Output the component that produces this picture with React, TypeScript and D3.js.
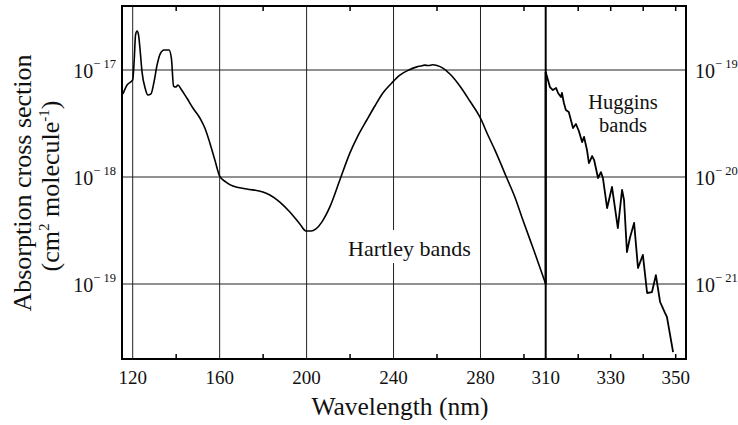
import React from "react";
import * as d3 from "d3";

// Hartley (left axis) region: wavelength (nm) and cross section (cm^2 molecule^-1)
const hartleyWavelength = [
  115.5, 117.4, 120.0, 120.7, 121.3, 122.0, 122.7, 123.4, 124.3, 125.7, 127.0, 128.4,
  129.8, 131.2, 132.6, 134.4, 136.7, 137.8, 138.8, 139.9, 140.8, 142.2, 144.9, 147.7,
  150.9, 153.2, 155.5, 157.8, 160.0, 162.9, 166.1, 172.5, 179.9, 183.1, 187.7, 192.3,
  196.9, 199.7, 202.0, 204.3, 207.0, 210.7, 215.3, 219.9, 223.6, 227.7, 231.4, 235.1,
  239.2, 242.9, 247.0, 250.7, 252.5, 254.3, 256.0, 258.0, 260.0, 262.7, 266.4, 270.5,
  275.1, 279.7, 283.4, 286.6, 292.1, 295.8, 299.5, 304.5, 310.0,
];
const hartleyCross = [
  5.97e-18, 7.24e-18, 8.07e-18, 1.24e-17, 2.12e-17, 2.31e-17, 2.12e-17, 1.54e-17, 9.57e-18, 6.79e-18, 5.83e-18, 5.97e-18,
  7.73e-18, 1.11e-17, 1.41e-17, 1.54e-17, 1.54e-17, 1.29e-17, 7.08e-18, 6.93e-18, 7.24e-18, 6.64e-18, 5.47e-18, 4.42e-18,
  3.56e-18, 2.87e-18, 2.08e-18, 1.44e-18, 1.02e-18, 8.97e-19, 8.24e-19, 7.73e-19, 7.24e-19, 6.79e-19, 5.83e-19, 4.71e-19,
  3.64e-19, 3.13e-19, 3.13e-19, 3.27e-19, 3.79e-19, 5.25e-19, 9.38e-19, 1.67e-18, 2.42e-18, 3.41e-18, 4.61e-18, 6.10e-18,
  7.57e-18, 8.97e-18, 1.0e-17, 1.07e-17, 1.09e-17, 1.11e-17, 1.10e-17, 1.12e-17, 1.10e-17, 1.04e-17, 8.97e-18, 7.08e-18,
  5.13e-18, 3.64e-18, 2.47e-18, 1.79e-18, 9.79e-19, 6.50e-19, 3.96e-19, 2.08e-19, 1.0e-19,
];

// Huggins (right axis) region
const hugginsWavelength = [
  310.0, 311.3, 312.2, 313.2, 313.8, 314.7, 315.0, 315.6, 316.2, 317.1, 318.4, 319.3,
  320.2, 321.2, 321.8, 322.7, 323.3, 324.3, 324.9, 326.1, 327.0, 327.6, 328.9, 330.4,
  332.2, 333.5, 334.1, 335.0, 335.9, 337.2, 338.4, 339.9, 341.2, 342.7, 343.9, 345.2,
  346.7, 347.3, 349.2,
];
const hugginsCross = [
  9.57e-20, 6.93e-20, 6.5e-20, 6.79e-20, 6.1e-20, 5.6e-20, 6.1e-20, 4.92e-20, 4.23e-20, 4.05e-20, 2.87e-20, 3.13e-20,
  2.69e-20, 2.12e-20, 2.37e-20, 1.79e-20, 1.35e-20, 1.57e-20, 1.44e-20, 9.79e-21, 1.11e-20, 9.79e-21, 5.13e-21, 8.07e-21,
  3.33e-21, 7.57e-21, 6.1e-21, 1.99e-21, 2.69e-21, 3.72e-21, 1.41e-21, 1.87e-21, 8.24e-22, 8.41e-22, 1.21e-21, 6.79e-22,
  5.36e-22, 4.92e-22, 2.31e-22,
];

const xTickLabelsLeft = [120, 160, 200, 240, 280, 310];
const xTickLabelsRight = [330, 350];
const xGridLeft = [120, 160, 200, 240, 280];
const xMinorLeft = [140, 180, 220, 260, 300];
const xMinorRight = [320, 330, 340, 350];
const yTicksLeft = [1e-17, 1e-18, 1e-19];
const yTickExpLeft = ["\u2212 17", "\u2212 18", "\u2212 19"];
const yTicksRight = [1e-19, 1e-20, 1e-21];
const yTickExpRight = ["\u2212 19", "\u2212 20", "\u2212 21"];

const FONT = "'Liberation Serif', 'Times New Roman', serif";

export default function App() {
  const W = 738;
  const H = 425;
  const fL = 122, fT = 6, fR = 686, fB = 359;

  const xLeft = d3.scaleLinear().domain([120, 310]).range([132.7, 545.7]);
  const xRight = d3.scaleLinear().domain([310, 350]).range([545.7, 675.7]);
  const yLeft = d3.scaleLog().domain([1e-17, 1e-19]).range([70, 284]);
  const yRight = d3.scaleLog().domain([1e-19, 1e-21]).range([70, 284]);

  const hartley: [number, number][] = hartleyWavelength.map((w, i) => [w, hartleyCross[i]]);
  const huggins: [number, number][] = hugginsWavelength.map((w, i) => [w, hugginsCross[i]]);

  const lineLeft = d3
    .line<[number, number]>()
    .x((d) => xLeft(d[0]))
    .y((d) => yLeft(d[1]))
    .curve(d3.curveMonotoneX);
  const lineRight = d3
    .line<[number, number]>()
    .x((d) => xRight(d[0]))
    .y((d) => yRight(d[1]));

  const gridColor = "#222";

  return (
    <div style={{ position: "absolute", left: 0, top: 0 }}>
      <svg width={W} height={H} style={{ display: "block", background: "#fff" }} fontFamily={FONT}>
        <rect x={0} y={0} width={W} height={H} fill="#fff" />
        {/* horizontal grid */}
        {yTicksLeft.map((v) => (
          <line key={"h" + v} x1={fL} x2={fR} y1={yLeft(v)} y2={yLeft(v)} stroke={gridColor} strokeWidth={1} />
        ))}
        {/* vertical grid */}
        {xGridLeft.map((v) => (
          <line key={"v" + v} x1={xLeft(v)} x2={xLeft(v)} y1={fT} y2={fB} stroke={gridColor} strokeWidth={1} />
        ))}
        <line x1={xLeft(310)} x2={xLeft(310)} y1={fT} y2={fB} stroke="#000" strokeWidth={2} />
        {/* minor ticks */}
        {xMinorLeft.map((v) => (
          <g key={"ml" + v}>
            <line x1={xLeft(v)} x2={xLeft(v)} y1={fB} y2={fB - 5} stroke="#000" strokeWidth={1.5} />
            <line x1={xLeft(v)} x2={xLeft(v)} y1={fT} y2={fT + 5} stroke="#000" strokeWidth={1.5} />
          </g>
        ))}
        {xMinorRight.map((v) => (
          <g key={"mr" + v}>
            <line x1={xRight(v)} x2={xRight(v)} y1={fB} y2={fB - 5} stroke="#000" strokeWidth={1.5} />
            <line x1={xRight(v)} x2={xRight(v)} y1={fT} y2={fT + 5} stroke="#000" strokeWidth={1.5} />
          </g>
        ))}
        {/* Hartley label with white backing */}
        <rect x={345} y={230} width={131} height={33} fill="#fff" />
        <text x={348} y={256} fontSize={22} fill="#111">Hartley bands</text>
        {/* Huggins label */}
        <text x={623} y={109} fontSize={20.5} textAnchor="middle" fill="#111">Huggins</text>
        <text x={623} y={132} fontSize={20.5} textAnchor="middle" fill="#111">bands</text>
        {/* curves */}
        <path d={lineLeft(hartley) || ""} fill="none" stroke="#000" strokeWidth={1.6} strokeLinejoin="round" />
        <line
          x1={xLeft(310)}
          x2={xRight(310)}
          y1={yLeft(1e-19)}
          y2={yRight(hugginsCross[0])}
          stroke="#000"
          strokeWidth={2}
        />
        <path d={lineRight(huggins) || ""} fill="none" stroke="#000" strokeWidth={1.8} strokeLinejoin="round" />
        {/* frame */}
        <rect x={fL} y={fT} width={fR - fL} height={fB - fT} fill="none" stroke="#000" strokeWidth={2} />
        {/* x tick labels */}
        {xTickLabelsLeft.map((v) => (
          <text key={"xl" + v} x={xLeft(v)} y={384} fontSize={19} textAnchor="middle" fill="#111">
            {v}
          </text>
        ))}
        {xTickLabelsRight.map((v) => (
          <text key={"xr" + v} x={xRight(v)} y={384} fontSize={19} textAnchor="middle" fill="#111">
            {v}
          </text>
        ))}
        {/* y tick labels */}
        {yTicksLeft.map((v, i) => (
          <text key={"yl" + v} x={116} y={yLeft(v) + 8} fontSize={20} textAnchor="end" fill="#111">
            10
            <tspan dy={-10} fontSize={12.5}>{yTickExpLeft[i]}</tspan>
          </text>
        ))}
        {yTicksRight.map((v, i) => (
          <text key={"yr" + v} x={695} y={yRight(v) + 8} fontSize={20} textAnchor="start" fill="#111">
            10
            <tspan dy={-10} fontSize={12.5}>{yTickExpRight[i]}</tspan>
          </text>
        ))}
        {/* axis titles */}
        <text x={400} y={415} fontSize={25.5} textAnchor="middle" fill="#111">
          Wavelength (nm)
        </text>
        <text transform="translate(31,183) rotate(-90)" fontSize={26} textAnchor="middle" fill="#111">
          Absorption cross section
        </text>
        <text transform="translate(59,186) rotate(-90)" fontSize={26} textAnchor="middle" fill="#111">
          (cm
          <tspan dy={-10} fontSize={15}>2</tspan>
          <tspan dy={10}> molecule</tspan>
          <tspan dy={-10} fontSize={15}>-1</tspan>
          <tspan dy={10}>)</tspan>
        </text>
      </svg>
    </div>
  );
}
